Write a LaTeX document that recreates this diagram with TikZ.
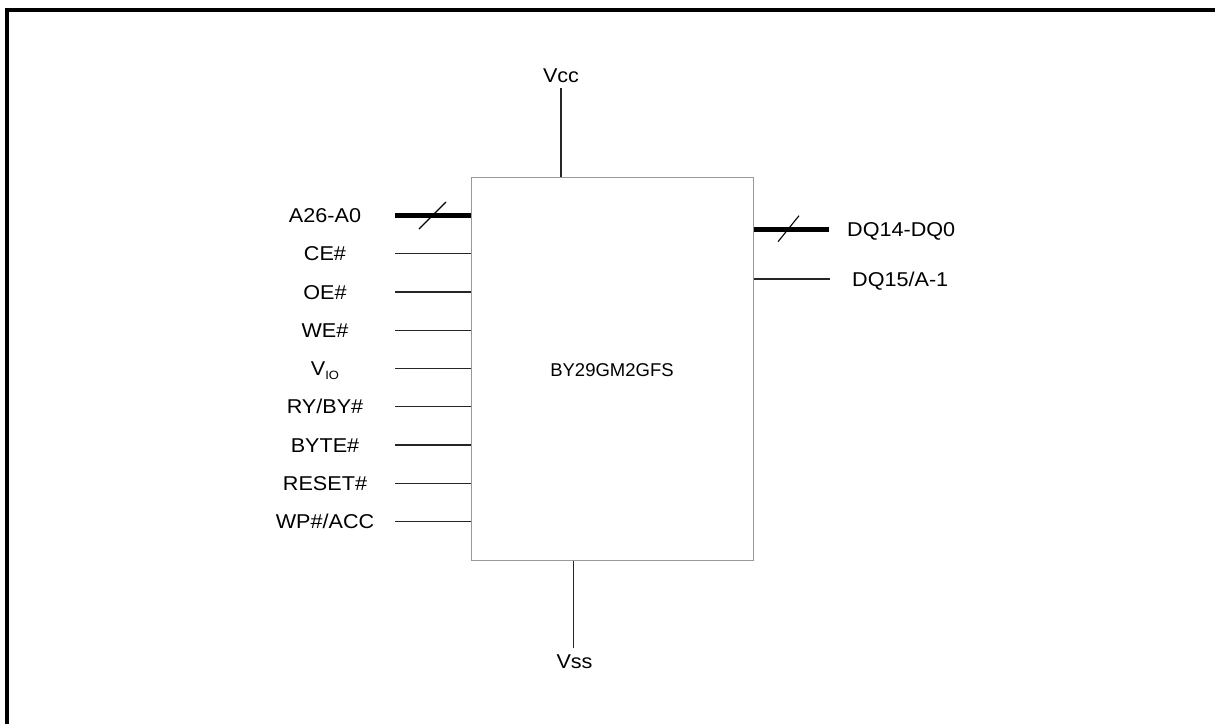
\documentclass[tikz,border=0pt]{standalone}
\usepackage{fontspec}
\setmainfont{Liberation Sans}
\newfontfamily\lblfont[FakeStretch=1.08]{Liberation Sans}
\begin{document}
\begin{tikzpicture}[x=1pt,y=-1pt,
  pin/.style={line width=1.2pt, draw=black!85},
  bus/.style={line width=5pt, draw=black},
  slash/.style={line width=1.1pt, draw=black},
  lbl/.style={font=\lblfont\fontsize{20}{24}\selectfont, inner sep=0pt, anchor=base},
  rlbl/.style={font=\lblfont\fontsize{20}{24}\selectfont, inner sep=0pt, anchor=base west},
]
\useasboundingbox (0,0) rectangle (1215,724);
\draw[line width=4pt] (7,724) -- (7,10) -- (1215,10);
\node[draw=black!40, line width=1pt, minimum width=282pt, minimum height=383pt, inner sep=0pt] (chip) at (612,368.5) {};
\node[font=\fontsize{18.5}{22}\selectfont, inner sep=0pt, anchor=base] (chipname) at (612,376) {BY29GM2GFS};

% top / bottom
\node[lbl] (vcc) at (561,82.7) {Vcc};
\coordinate (vcct) at (561,88);
\draw[pin] (vcct) -- (vcct |- chip.north);
\node[lbl] (vss) at (574.5,668) {Vss};
\coordinate (vssb) at (573.3,648);
\draw[pin] (vssb) -- (vssb |- chip.south);

% left pins
\node[lbl] (la) at (325,222.9) {A26-A0};
\coordinate (pa) at (395,215.7);
\draw[bus] (pa) -- (pa -| chip.west);
\coordinate (sa) at (432.5,215.5);
\draw[slash] ([shift={(-13.5,13.5)}]sa) -- ([shift={(13.5,-13.5)}]sa);

\node[lbl] (lce) at (325,260.5) {CE\#};
\coordinate (pce) at (395,253.3);
\draw[pin] (pce) -- (pce -| chip.west);

\node[lbl] (loe) at (325,299.2) {OE\#};
\coordinate (poe) at (395,292);
\draw[pin] (poe) -- (poe -| chip.west);

\node[lbl] (lwe) at (325,337.5) {WE\#};
\coordinate (pwe) at (395,330.3);
\draw[pin] (pwe) -- (pwe -| chip.west);

\node[lbl] (lvio) at (325,375.9) {V\raisebox{-0.3ex}{\fontsize{12}{14}\selectfont IO}};
\coordinate (pvio) at (395,368.7);
\draw[pin] (pvio) -- (pvio -| chip.west);

\node[lbl] (lry) at (325,413.9) {RY/BY\#};
\coordinate (pry) at (395,406.7);
\draw[pin] (pry) -- (pry -| chip.west);

\node[lbl] (lbyte) at (325,452.2) {BYTE\#};
\coordinate (pbyte) at (395,445);
\draw[pin] (pbyte) -- (pbyte -| chip.west);

\node[lbl] (lreset) at (325,490.5) {RESET\#};
\coordinate (preset) at (395,483.3);
\draw[pin] (preset) -- (preset -| chip.west);

\node[lbl] (lwp) at (325,528.9) {WP\#/ACC};
\coordinate (pwp) at (395,521.7);
\draw[pin] (pwp) -- (pwp -| chip.west);

% right pins
\node[rlbl] (ldq) at (847,236) {DQ14-DQ0};
\coordinate (pdq) at (829,229);
\draw[bus] (pdq -| chip.east) -- (pdq);
\coordinate (sdq) at (788.5,228.7);
\draw[slash] ([shift={(-10.5,13)}]sdq) -- ([shift={(10.5,-13)}]sdq);

\node[rlbl] (ldq15) at (852,286.5) {DQ15/A-1};
\coordinate (pdq15) at (830,279);
\draw[pin] (pdq15 -| chip.east) -- (pdq15);
\end{tikzpicture}
\end{document}
